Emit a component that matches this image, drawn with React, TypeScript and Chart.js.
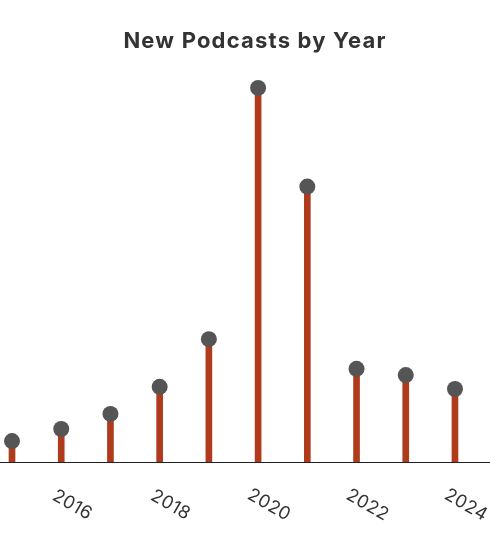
import React, { useEffect, useRef } from "react";
import { Chart, registerables } from "chart.js";

Chart.register(...registerables);

const years: number[] = [2015, 2016, 2017, 2018, 2019, 2020, 2021, 2022, 2023, 2024];
const newPodcasts: number[] = [57000, 90000, 131000, 205000, 335000, 1020000, 751000, 254000, 237000, 199000];
const tickLabels: string[] = ["2016", "2018", "2020", "2022", "2024"];

const TITLE = "New Podcasts by Year";
const STEM_COLOR = "#B03A1C";
const DOT_COLOR = "#555555";
const FONT = "Inter, 'Noto Sans', sans-serif";

const customText = {
  id: "customText",
  afterDraw(chart: any) {
    const xs = chart.scales.x;
    const ctx = chart.ctx;
    const y0 = chart.chartArea.bottom;
    ctx.save();
    // title
    ctx.font = `bold 22px ${FONT}`;
    (ctx as any).letterSpacing = "1.2px";
    ctx.fillStyle = "#333333";
    ctx.textAlign = "center";
    ctx.textBaseline = "alphabetic";
    ctx.fillText(TITLE, chart.width / 2, 47.5);
    (ctx as any).letterSpacing = "0.4px";
    ctx.font = `18px ${FONT}`;
    ctx.textBaseline = "middle";
    for (const lab of tickLabels) {
      const px = xs.getPixelForValue(Number(lab));
      ctx.save();
      ctx.translate(px + 11, y0 + 43);
      ctx.rotate((30 * Math.PI) / 180);
      ctx.fillText(lab, 0, 0);
      ctx.restore();
    }
    ctx.restore();
  },
};

export default function App() {
  const ref = useRef<HTMLCanvasElement | null>(null);
  useEffect(() => {
    if (!ref.current) return;
    const pts = years.map((x, i) => ({ x, y: newPodcasts[i] }));
    const chart = new Chart(ref.current, {
      type: "bar",
      data: {
        datasets: [
          {
            type: "scatter",
            data: pts,
            pointRadius: 8,
            pointHoverRadius: 8,
            pointBackgroundColor: DOT_COLOR,
            pointBorderWidth: 0,
            borderColor: DOT_COLOR,
            backgroundColor: DOT_COLOR,
            order: 0,
          } as any,
          {
            type: "bar",
            data: pts,
            backgroundColor: STEM_COLOR,
            borderWidth: 0,
            barThickness: 6,
            order: 1,
          } as any,
        ],
      },
      options: {
        animation: false,
        responsive: true,
        maintainAspectRatio: false,
        layout: { autoPadding: false, padding: { top: 58.6, left: 0, right: 0, bottom: 0 } },
        plugins: {
          legend: { display: false },
          tooltip: { enabled: false },
          title: { display: false },
        },
        scales: {
          x: {
            type: "linear",
            offset: false,
            min: 2014.756,
            max: 2025.118,
            grid: { display: false },
            border: { display: true, color: "#222222", width: 1 },
            ticks: { display: false },
            afterFit: (s: any) => {
              s.height = 88;
            },
          },
          y: {
            display: false,
            min: 0,
            max: 1100000,
          },
        },
      },
      plugins: [customText],
    });
    return () => chart.destroy();
  }, []);
  return (
    <div style={{ position: "fixed", left: 0, top: 0, width: 510, height: 550, background: "#fff" }}>
      <canvas ref={ref} />
    </div>
  );
}
